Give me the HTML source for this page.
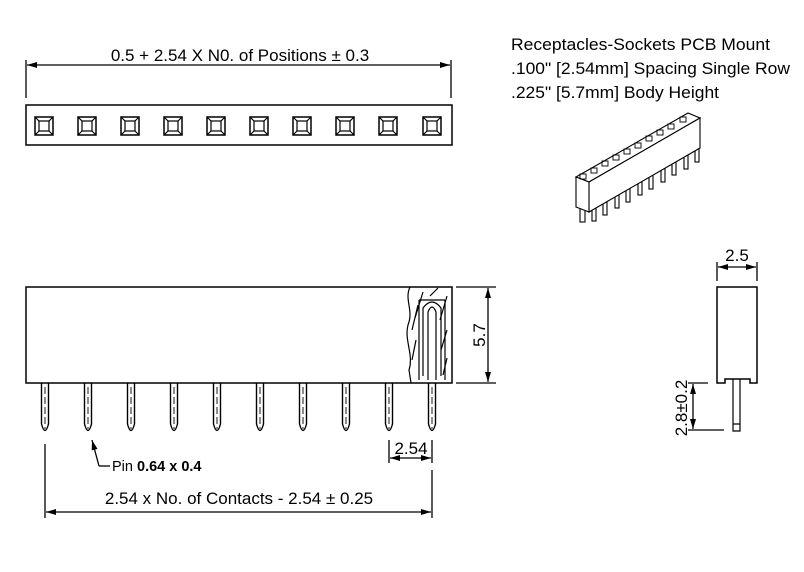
<!DOCTYPE html>
<html><head><meta charset="utf-8"><style>
html,body{margin:0;padding:0;background:#fff;}
svg{display:block;}
text{font-family:"Liberation Sans",Arial,sans-serif;fill:#000;}
</style></head><body>
<svg width="804" height="572" viewBox="0 0 804 572" xmlns="http://www.w3.org/2000/svg">
<defs>
<marker id="a" viewBox="0 0 10 6" refX="10" refY="3" markerWidth="11" markerHeight="6" orient="auto-start-reverse" markerUnits="userSpaceOnUse"><path d="M0,0 L10,3 L0,6 Z" fill="#000"/></marker>
<g id="sq"><rect x="-9" y="-9" width="18" height="18" fill="none" stroke="#000" stroke-width="1.5"/><rect x="-5" y="-5" width="10" height="10" fill="none" stroke="#000" stroke-width="1.2"/><path d="M-9,-9 L-5,-5 M9,-9 L5,-5 M-9,9 L-5,5 M9,9 L5,5" stroke="#000" stroke-width="1.2"/></g>
<g id="pin"><path d="M-3.5,0 L-3.5,41 Q0,54 3.5,41 L3.5,0" fill="none" stroke="#000" stroke-width="1.4"/><path d="M0,4 L0,46" stroke="#000" stroke-width="0.9" stroke-dasharray="7,3"/></g>
</defs>

<!-- top view -->
<text x="240" y="61" font-size="17" text-anchor="middle">0.5 + 2.54 X N0. of Positions ± 0.3</text>
<line x1="26" y1="60" x2="26" y2="98" stroke="#000" stroke-width="1.3"/>
<line x1="451" y1="60" x2="451" y2="98" stroke="#000" stroke-width="1.3"/>
<line x1="27" y1="65" x2="450" y2="65" stroke="#000" stroke-width="1.3" marker-start="url(#a)" marker-end="url(#a)"/>
<rect x="26" y="105" width="426" height="40" fill="none" stroke="#000" stroke-width="1.5"/>
<use href="#sq" x="44" y="126"/><use href="#sq" x="87" y="126"/><use href="#sq" x="130" y="126"/><use href="#sq" x="173" y="126"/><use href="#sq" x="216" y="126"/><use href="#sq" x="259" y="126"/><use href="#sq" x="302" y="126"/><use href="#sq" x="345" y="126"/><use href="#sq" x="388" y="126"/><use href="#sq" x="432" y="126"/>

<!-- text block -->
<text x="511" y="50" font-size="16.5" textLength="259" lengthAdjust="spacingAndGlyphs">Receptacles-Sockets PCB Mount</text>
<text x="511" y="74" font-size="16.5" textLength="279" lengthAdjust="spacingAndGlyphs">.100" [2.54mm] Spacing Single Row</text>
<text x="511" y="98" font-size="16.5" textLength="208" lengthAdjust="spacingAndGlyphs">.225" [5.7mm] Body Height</text>

<!-- 3D view -->
<g stroke="#000" stroke-width="1.1" fill="#fff">
<rect x="580" y="200" width="5" height="22"/>
<rect x="592" y="207" width="4" height="14"/><rect x="603" y="201" width="4" height="14"/><rect x="615" y="194" width="4" height="14"/><rect x="626" y="188" width="4" height="14"/><rect x="638" y="181" width="4" height="14"/><rect x="649" y="175" width="4" height="14"/><rect x="661" y="168" width="4" height="14"/><rect x="672" y="161" width="4" height="14"/><rect x="684" y="155" width="4" height="14"/><rect x="695" y="148" width="4" height="14"/>
<polygon points="576,177 688,113 700,118 589,182"/>
<polygon points="589,182 700,118 700,148 589,212"/>
<polygon points="576,177 589,182 589,212 576,207"/>
</g>
<g fill="none" stroke="#000" stroke-width="0.9">
<rect x="580" y="174" width="6" height="5"/><rect x="591" y="168" width="6" height="5"/><rect x="602" y="161" width="6" height="5"/><rect x="613" y="155" width="6" height="5"/><rect x="624" y="149" width="6" height="5"/><rect x="635" y="143" width="6" height="5"/><rect x="646" y="136" width="6" height="5"/><rect x="657" y="130" width="6" height="5"/><rect x="668" y="124" width="6" height="5"/><rect x="680" y="117" width="6" height="5"/>
</g>

<!-- side view -->
<rect x="26" y="287" width="426" height="96" fill="none" stroke="#000" stroke-width="1.5"/>
<g stroke="#000" stroke-width="1.2" fill="none">
<path d="M410,287 C404,300 414,310 408,325 C404,340 414,355 409,370 L411,383"/>
<path d="M419,300 L419,380 M445,300 L445,380 M419,300 L445,300"/>
<path d="M428,380 L428,312 Q432,302 436,312 L436,380"/>
<path d="M423,376 L423,308 Q432,296 441,308 L441,376"/>
<path d="M423,292 L415,318 M447,296 L440,320 M447,330 L441,350 M416,340 L412,360 M447,358 L443,375 M418,305 L412,330 M430,296 L438,288"/>
</g>
<use href="#pin" x="45" y="383"/><use href="#pin" x="88" y="383"/><use href="#pin" x="131" y="383"/><use href="#pin" x="174" y="383"/><use href="#pin" x="217" y="383"/><use href="#pin" x="260" y="383"/><use href="#pin" x="303" y="383"/><use href="#pin" x="346" y="383"/><use href="#pin" x="389" y="383"/><use href="#pin" x="432" y="383"/>

<!-- 5.7 dim -->
<line x1="456" y1="287" x2="496" y2="287" stroke="#000" stroke-width="1.3"/>
<line x1="456" y1="383" x2="496" y2="383" stroke="#000" stroke-width="1.3"/>
<line x1="488" y1="288" x2="488" y2="382" stroke="#000" stroke-width="1.3" marker-start="url(#a)" marker-end="url(#a)"/>
<text x="0" y="0" font-size="17" text-anchor="middle" transform="translate(485,335) rotate(-90)">5.7</text>

<!-- 2.54 dim -->
<line x1="389" y1="440" x2="389" y2="463" stroke="#000" stroke-width="1.3"/>
<line x1="432" y1="440" x2="432" y2="463" stroke="#000" stroke-width="1.3"/>
<line x1="390" y1="458" x2="431" y2="458" stroke="#000" stroke-width="1.3" marker-start="url(#a)" marker-end="url(#a)"/>
<text x="411" y="454" font-size="17" text-anchor="middle">2.54</text>

<!-- pin leader -->
<path d="M99,466 L92,440" stroke="#000" stroke-width="1.3" fill="none" marker-end="url(#a)"/>
<line x1="99" y1="466" x2="110" y2="466" stroke="#000" stroke-width="1.3"/>
<text x="112" y="471" font-size="14.5">Pin <tspan font-weight="bold">0.64 x 0.4</tspan></text>

<!-- bottom dim -->
<line x1="45" y1="444" x2="45" y2="518" stroke="#000" stroke-width="1.3"/>
<line x1="432" y1="470" x2="432" y2="518" stroke="#000" stroke-width="1.3"/>
<line x1="46" y1="512" x2="431" y2="512" stroke="#000" stroke-width="1.3" marker-start="url(#a)" marker-end="url(#a)"/>
<text x="239" y="504" font-size="17" text-anchor="middle">2.54 x No. of Contacts - 2.54 ± 0.25</text>

<!-- right side view -->
<path d="M717,287 L757,287 L757,383 L750,383 L750,379 L725,379 L725,383 L717,383 Z" fill="none" stroke="#000" stroke-width="1.5"/>
<path d="M733,379 L733,431 L740,431 L740,379 M733,424 L740,424" fill="none" stroke="#000" stroke-width="1.2"/>
<line x1="717" y1="262" x2="717" y2="281" stroke="#000" stroke-width="1.3"/>
<line x1="757" y1="262" x2="757" y2="281" stroke="#000" stroke-width="1.3"/>
<line x1="718" y1="267" x2="756" y2="267" stroke="#000" stroke-width="1.3" marker-start="url(#a)" marker-end="url(#a)"/>
<text x="737" y="261" font-size="17" text-anchor="middle">2.5</text>
<line x1="688" y1="383" x2="708" y2="383" stroke="#000" stroke-width="1.3"/>
<line x1="688" y1="430" x2="724" y2="430" stroke="#000" stroke-width="1.3"/>
<line x1="693" y1="384" x2="693" y2="429" stroke="#000" stroke-width="1.3" marker-start="url(#a)" marker-end="url(#a)"/>
<text x="0" y="0" font-size="17" text-anchor="middle" transform="translate(687,408) rotate(-90)">2.8±0.2</text>
</svg>
</body></html>
